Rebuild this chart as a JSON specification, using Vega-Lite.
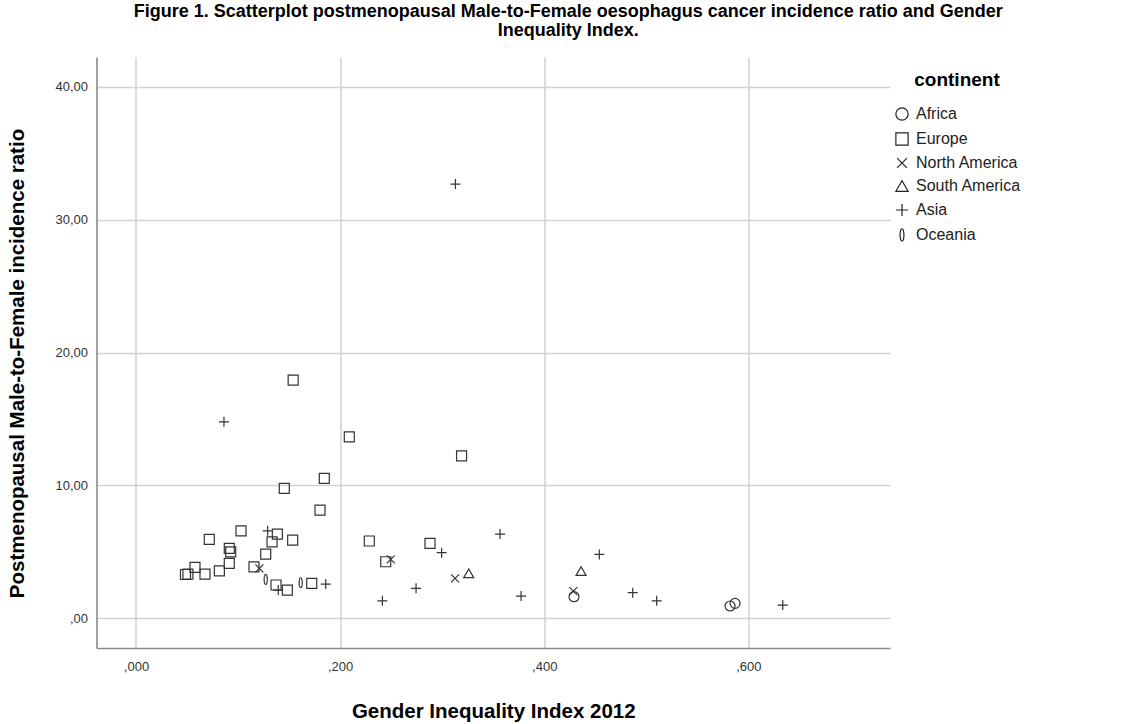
{
  "$schema": "https://vega.github.io/schema/vega-lite/v6.json",
  "width": 793.5,
  "height": 591,
  "autosize": {"type": "none"},
  "padding": {"left": 96.5, "top": 57, "right": 247, "bottom": 76},
  "background": "white",
  "title": {
    "text": ["Figure 1. Scatterplot postmenopausal Male-to-Female oesophagus cancer incidence ratio and Gender", "Inequality Index."],
    "font": "Liberation Sans",
    "fontSize": 18,
    "fontWeight": "bold",
    "color": "#000000",
    "anchor": "middle",
    "frame": "group",
    "dx": 75,
    "lineHeight": 19,
    "offset": 17
  },
  "config": {
    "view": {"stroke": null},
    "font": "Liberation Sans"
  },
  "data": {
    "values": [
      {"continent": "Europe", "gii": 0.154, "ratio": 17.93},
      {"continent": "Europe", "gii": 0.209, "ratio": 13.66},
      {"continent": "Europe", "gii": 0.319, "ratio": 12.23},
      {"continent": "Europe", "gii": 0.1845, "ratio": 10.53},
      {"continent": "Europe", "gii": 0.1453, "ratio": 9.78},
      {"continent": "Europe", "gii": 0.1803, "ratio": 8.15},
      {"continent": "Europe", "gii": 0.0718, "ratio": 5.94},
      {"continent": "Europe", "gii": 0.1029, "ratio": 6.59},
      {"continent": "Europe", "gii": 0.1385, "ratio": 6.34},
      {"continent": "Europe", "gii": 0.1333, "ratio": 5.76},
      {"continent": "Europe", "gii": 0.1535, "ratio": 5.89},
      {"continent": "Europe", "gii": 0.0914, "ratio": 5.27},
      {"continent": "Europe", "gii": 0.0928, "ratio": 5.01},
      {"continent": "Europe", "gii": 0.1271, "ratio": 4.84},
      {"continent": "Europe", "gii": 0.2286, "ratio": 5.82},
      {"continent": "Europe", "gii": 0.2447, "ratio": 4.26},
      {"continent": "Europe", "gii": 0.0914, "ratio": 4.14},
      {"continent": "Europe", "gii": 0.0817, "ratio": 3.58},
      {"continent": "Europe", "gii": 0.1156, "ratio": 3.88},
      {"continent": "Europe", "gii": 0.0578, "ratio": 3.84},
      {"continent": "Europe", "gii": 0.0676, "ratio": 3.33},
      {"continent": "Europe", "gii": 0.0485, "ratio": 3.3},
      {"continent": "Europe", "gii": 0.0509, "ratio": 3.33},
      {"continent": "Europe", "gii": 0.1372, "ratio": 2.51},
      {"continent": "Europe", "gii": 0.1483, "ratio": 2.13},
      {"continent": "Europe", "gii": 0.1722, "ratio": 2.63},
      {"continent": "Europe", "gii": 0.2881, "ratio": 5.64},
      {"continent": "Asia", "gii": 0.313, "ratio": 32.68},
      {"continent": "Asia", "gii": 0.0862, "ratio": 14.79},
      {"continent": "Asia", "gii": 0.129, "ratio": 6.59},
      {"continent": "Asia", "gii": 0.1394, "ratio": 2.13},
      {"continent": "Asia", "gii": 0.1859, "ratio": 2.58},
      {"continent": "Asia", "gii": 0.2414, "ratio": 1.32},
      {"continent": "Asia", "gii": 0.2744, "ratio": 2.26},
      {"continent": "Asia", "gii": 0.2995, "ratio": 4.94},
      {"continent": "Asia", "gii": 0.3567, "ratio": 6.34},
      {"continent": "Asia", "gii": 0.3773, "ratio": 1.68},
      {"continent": "Asia", "gii": 0.454, "ratio": 4.81},
      {"continent": "Asia", "gii": 0.4867, "ratio": 1.93},
      {"continent": "Asia", "gii": 0.5102, "ratio": 1.32},
      {"continent": "Asia", "gii": 0.6337, "ratio": 1.0},
      {"continent": "North America", "gii": 0.1209, "ratio": 3.76},
      {"continent": "North America", "gii": 0.2496, "ratio": 4.44},
      {"continent": "North America", "gii": 0.3126, "ratio": 3.01},
      {"continent": "North America", "gii": 0.4285, "ratio": 2.05},
      {"continent": "South America", "gii": 0.326, "ratio": 3.39},
      {"continent": "South America", "gii": 0.4361, "ratio": 3.56},
      {"continent": "Africa", "gii": 0.4292, "ratio": 1.63},
      {"continent": "Africa", "gii": 0.5821, "ratio": 0.93},
      {"continent": "Africa", "gii": 0.587, "ratio": 1.13},
      {"continent": "Oceania", "gii": 0.1271, "ratio": 2.93},
      {"continent": "Oceania", "gii": 0.1614, "ratio": 2.68}
    ]
  },
  "mark": {
    "type": "point",
    "filled": false,
    "color": "#333333",
    "strokeWidth": 1.2,
    "size": 100,
    "opacity": 1
  },
  "encoding": {
    "x": {
      "field": "gii",
      "type": "quantitative",
      "scale": {"domain": [-0.0387, 0.7388], "nice": false, "zero": false},
      "axis": {
        "title": "Gender Inequality Index 2012",
        "titleFont": "Liberation Sans",
        "titleFontSize": 20.5,
        "titleFontWeight": "bold",
        "titleColor": "#000000",
        "titlePadding": 28,
        "values": [0, 0.2, 0.4, 0.6],
        "labelExpr": "replace(format(datum.value, '.3f'), '0.', ',')",
        "labelFont": "Liberation Sans",
        "labelFontSize": 13,
        "labelColor": "#333333",
        "labelPadding": 12,
        "ticks": false,
        "domainColor": "#8a8a8a",
        "domainWidth": 1.6,
        "gridColor": "#d2d2d2",
        "gridWidth": 1.6,
        "gridOpacity": 1
      }
    },
    "y": {
      "field": "ratio",
      "type": "quantitative",
      "scale": {"domain": [-2.23, 42.24], "nice": false, "zero": false},
      "axis": {
        "title": "Postmenopausal Male-to-Female incidence ratio",
        "titleFont": "Liberation Sans",
        "titleFontSize": 20.5,
        "titleFontWeight": "bold",
        "titleColor": "#000000",
        "titlePadding": 27,
        "titleY": 306,
        "values": [0, 10, 20, 30, 40],
        "labelExpr": "datum.value == 0 ? ',00' : replace(format(datum.value, '.2f'), '.', ',')",
        "labelFont": "Liberation Sans",
        "labelFontSize": 13,
        "labelColor": "#333333",
        "labelPadding": 9,
        "ticks": false,
        "domainColor": "#8a8a8a",
        "domainWidth": 1.6,
        "gridColor": "#d2d2d2",
        "gridWidth": 1.6,
        "gridOpacity": 1
      }
    },
    "shape": {
      "field": "continent",
      "type": "nominal",
      "scale": {
        "domain": ["Africa", "Europe", "North America", "South America", "Asia", "Oceania"],
        "range": [
          "circle",
          "square",
          "M-0.8,-0.8L0.8,0.8M-0.8,0.8L0.8,-0.8",
          "triangle-up",
          "M-1,0L1,0M0,-1L0,1",
          "M0,-1C0.42,-1 0.42,1 0,1C-0.42,1 -0.42,-1 0,-1Z"
        ]
      },
      "legend": {
        "title": "continent",
        "orient": "none",
        "legendX": 797.5,
        "legendY": 14,
        "titleFont": "Liberation Sans",
        "titleFontSize": 19,
        "titleFontWeight": "bold",
        "titleColor": "#000000",
        "titleAnchor": "middle",
        "titlePadding": 16,
        "labelFont": "Liberation Sans",
        "labelFontSize": 16,
        "labelColor": "#222222",
        "labelOffset": 6,
        "symbolSize": 150,
        "symbolStrokeColor": "#222222",
        "symbolFillColor": "transparent",
        "symbolStrokeWidth": 1.2,
        "rowPadding": 7,
        "padding": 0
      }
    }
  }
}
